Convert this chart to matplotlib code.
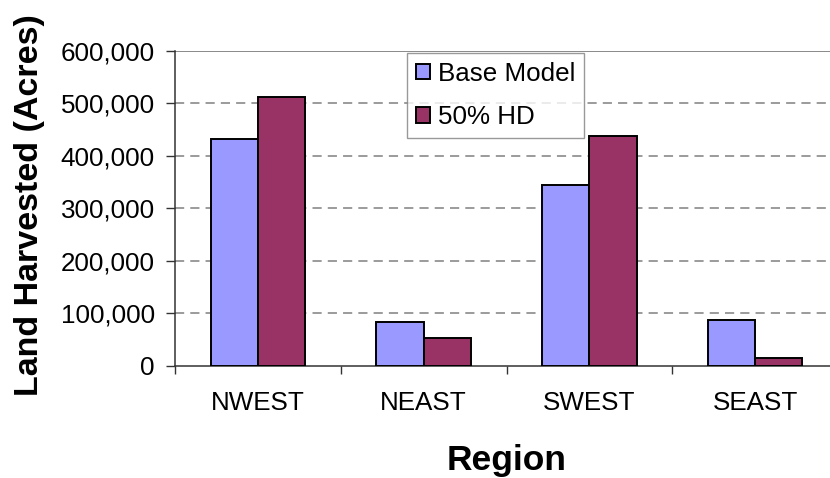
import matplotlib
matplotlib.use("Agg")
import matplotlib.pyplot as plt
import numpy as np
from matplotlib.ticker import FuncFormatter

# data
regions = ["NWEST", "NEAST", "SWEST", "SEAST"]
base_model = [431700, 83500, 343700, 87400]
hd_50 = [512000, 52900, 438700, 14700]
series_names = ["Base Model", "50% HD"]
y_ticks = [0, 100000, 200000, 300000, 400000, 500000, 600000]

plt.rcParams["font.family"] = ["Liberation Sans", "DejaVu Sans"]

fig = plt.figure(figsize=(8.3, 4.78), dpi=100)
# plot area runs a little past the right edge, as in the original
ax = fig.add_axes([175 / 830, 1 - 365.5 / 478, (838 - 175) / 830, (365.5 - 51) / 478])

x = np.arange(len(regions))
w = 1 / 3.5  # excel gap width 150%
ax.bar(x - w / 2, base_model, w, color="#9999FF", edgecolor="black", linewidth=1.4,
       label=series_names[0], zorder=3)
ax.bar(x + w / 2, hd_50, w, color="#993366", edgecolor="black", linewidth=1.4,
       label=series_names[1], zorder=3)

ax.set_xlim(-0.5, len(regions) - 0.5)
ax.set_ylim(0, 600000)

# gridlines
for v in y_ticks[1:-1]:
    ax.axhline(v, color="#808080", linewidth=1.1, linestyle=(0, (6, 4)), zorder=1)
ax.axhline(600000, color="#808080", linewidth=1.3, zorder=1)

for side in ["top", "right"]:
    ax.spines[side].set_visible(False)
ax.spines["left"].set_color("#333333")
ax.spines["bottom"].set_color("#333333")
ax.spines["left"].set_linewidth(1.1)
ax.spines["bottom"].set_linewidth(1.1)

ax.set_yticks(y_ticks)
ax.yaxis.set_major_formatter(FuncFormatter(lambda v, p: f"{int(v):,}"))
ax.tick_params(axis="y", length=6.5, width=1, color="#333333", pad=8, labelsize=18.7)

# category boundary ticks, labels on minor ticks at centres
ax.set_xticks(np.arange(-0.5, len(regions), 1.0))
ax.set_xticklabels([])
ax.tick_params(axis="x", which="major", length=6, width=1, color="#333333")
ax.set_xticks(x, minor=True)
ax.set_xticklabels(regions, minor=True)
ax.tick_params(axis="x", which="minor", length=0, pad=18, labelsize=18.7)

leg = ax.legend(loc="upper left", bbox_to_anchor=((406.7 - 175) / 663, 1 - (52.7 - 51) / 314.5),
                fontsize=18.7, frameon=True, fancybox=False, shadow=False,
                handlelength=0.55, handleheight=0.55, handletextpad=0.3,
                borderpad=0.35, labelspacing=0.75, borderaxespad=0)
leg.get_frame().set_edgecolor("#808080")
leg.get_frame().set_linewidth(1.0)
leg.set_zorder(5)

fig.text(30 / 830, 1 - 205 / 478, "Land Harvested (Acres)", rotation=90, fontsize=24.5,
         fontweight="bold", ha="center", va="center")
fig.text(506.7 / 830, 1 - 470 / 478, "Region", fontsize=25.5, fontweight="bold",
         ha="center", va="baseline")

fig.savefig("out.png", dpi=100)
